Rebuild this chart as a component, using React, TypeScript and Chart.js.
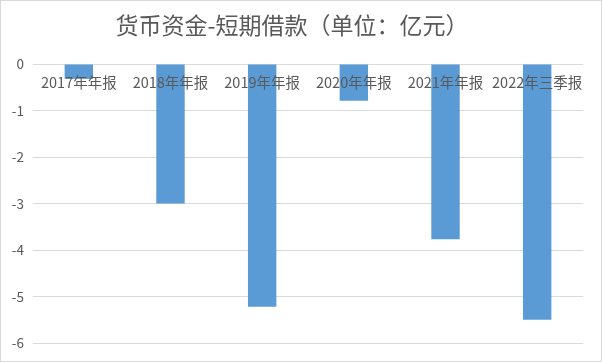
import React, { useEffect, useRef } from "react";
import { Chart, registerables } from "chart.js";

Chart.register(...registerables);

const title = "货币资金-短期借款（单位：亿元）";
const categories = ["2017年年报", "2018年年报", "2019年年报", "2020年年报", "2021年年报", "2022年三季报"];
const values = [-0.32, -3.0, -5.22, -0.79, -3.77, -5.5];
const yMin = -6;
const yMax = 0;
const yStep = 1;

export default function App() {
  const ref = useRef<HTMLCanvasElement | null>(null);

  useEffect(() => {
    document.body.style.margin = "0";
    const canvas = ref.current;
    if (!canvas) return;
    const font = "'Noto Sans CJK SC', 'Noto Sans', sans-serif";
    const chart = new Chart(canvas, {
      type: "bar",
      data: {
        labels: categories,
        datasets: [
          {
            data: values,
            backgroundColor: "#5B9BD5",
            borderWidth: 0,
            barPercentage: 0.31,
            categoryPercentage: 1,
          },
        ],
      },
      options: {
        animation: false,
        responsive: false,
        maintainAspectRatio: false,
        layout: { padding: { left: 0, right: 18, top: 0, bottom: 18 } },
        plugins: {
          legend: { display: false },
          tooltip: { enabled: false },
          title: {
            display: true,
            text: title,
            color: "#595959",
            font: { family: font, size: 23, weight: "normal", lineHeight: 1.2 },
            padding: { top: 10.4, bottom: 25 },
          },
        },
        scales: {
          x: {
            position: { y: 0 } as any,
            grid: { display: false, drawTicks: false },
            border: { display: false },
            ticks: {
              z: 1,
              color: "#595959",
              font: { family: font, size: 14.5 },
              padding: 10,
              maxRotation: 0,
              autoSkip: false,
            },
          },
          y: {
            min: yMin,
            max: yMax,
            afterFit: (s: any) => {
              s.width = 32;
            },
            grid: { color: "#D9D9D9", lineWidth: 1, drawTicks: false },
            border: { display: false },
            ticks: {
              stepSize: yStep,
              color: "#595959",
              font: { family: font, size: 13.5 },
              padding: 9,
            },
          },
        },
      },
    });
    return () => chart.destroy();
  }, []);

  return (
    <div
      style={{
        width: 602,
        height: 362,
        boxSizing: "border-box",
        border: "1px solid #D9D9D9",
        background: "#fff",
      }}
    >
      <canvas ref={ref} width={600} height={360} style={{ display: "block", width: 600, height: 360 }} />
    </div>
  );
}
